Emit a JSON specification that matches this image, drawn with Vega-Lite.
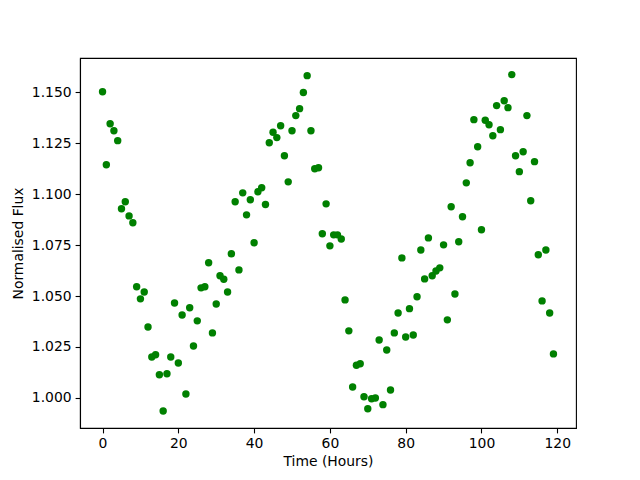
{
  "$schema": "https://vega.github.io/schema/vega-lite/v6.json",
  "width": 496,
  "height": 370,
  "autosize": {"type": "none"},
  "padding": {"left": 80, "top": 58, "right": 64, "bottom": 52},
  "background": "white",
  "config": {
    "view": {"stroke": "black", "strokeWidth": 1.1},
    "font": "DejaVu Sans",
    "axis": {
      "grid": false,
      "domainColor": "black",
      "domainWidth": 1.1,
      "tickColor": "black",
      "tickWidth": 1.1,
      "tickSize": 4.9,
      "labelPadding": 4,
      "labelFontSize": 13.9,
      "labelColor": "black",
      "labelFont": "DejaVu Sans",
      "titleFont": "DejaVu Sans",
      "titleFontSize": 13.9,
      "titleFontWeight": "normal",
      "titleColor": "black"
    }
  },
  "data": {
    "values": [
      {"t": 0, "f": 1.1502}, {"t": 1, "f": 1.1144}, {"t": 2, "f": 1.1345}, {"t": 3, "f": 1.1311},
      {"t": 4, "f": 1.1262}, {"t": 5, "f": 1.0928}, {"t": 6, "f": 1.0962}, {"t": 7, "f": 1.0893},
      {"t": 8, "f": 1.0859}, {"t": 9, "f": 1.0545}, {"t": 10, "f": 1.0486}, {"t": 11, "f": 1.0520},
      {"t": 12, "f": 1.0348}, {"t": 13, "f": 1.0201}, {"t": 14, "f": 1.0212}, {"t": 15, "f": 1.0114},
      {"t": 16, "f": 0.9936}, {"t": 17, "f": 1.0119}, {"t": 18, "f": 1.0201}, {"t": 19, "f": 1.0466},
      {"t": 20, "f": 1.0171}, {"t": 21, "f": 1.0407}, {"t": 22, "f": 1.0019}, {"t": 23, "f": 1.0442},
      {"t": 24, "f": 1.0255}, {"t": 25, "f": 1.0378}, {"t": 26, "f": 1.0540}, {"t": 27, "f": 1.0545},
      {"t": 28, "f": 1.0663}, {"t": 29, "f": 1.0319}, {"t": 30, "f": 1.0461}, {"t": 31, "f": 1.0599},
      {"t": 32, "f": 1.0582}, {"t": 33, "f": 1.0520}, {"t": 34, "f": 1.0707}, {"t": 35, "f": 1.0962},
      {"t": 36, "f": 1.0628}, {"t": 37, "f": 1.1006}, {"t": 38, "f": 1.0898}, {"t": 39, "f": 1.0972},
      {"t": 40, "f": 1.0761}, {"t": 41, "f": 1.1011}, {"t": 42, "f": 1.1031}, {"t": 43, "f": 1.0949},
      {"t": 44, "f": 1.1252}, {"t": 45, "f": 1.1303}, {"t": 46, "f": 1.1277}, {"t": 47, "f": 1.1335},
      {"t": 48, "f": 1.1188}, {"t": 49, "f": 1.1060}, {"t": 50, "f": 1.1311}, {"t": 51, "f": 1.1385},
      {"t": 52, "f": 1.1419}, {"t": 53, "f": 1.1498}, {"t": 54, "f": 1.1581}, {"t": 55, "f": 1.1311},
      {"t": 56, "f": 1.1124}, {"t": 57, "f": 1.1129}, {"t": 58, "f": 1.0805}, {"t": 59, "f": 1.0952},
      {"t": 60, "f": 1.0746}, {"t": 61, "f": 1.0800}, {"t": 62, "f": 1.0800}, {"t": 63, "f": 1.0780},
      {"t": 64, "f": 1.0481}, {"t": 65, "f": 1.0329}, {"t": 66, "f": 1.0054}, {"t": 67, "f": 1.0160},
      {"t": 68, "f": 1.0168}, {"t": 69, "f": 1.0006}, {"t": 70, "f": 0.9947}, {"t": 71, "f": 0.9996},
      {"t": 72, "f": 1.0000}, {"t": 73, "f": 1.0284}, {"t": 74, "f": 0.9967}, {"t": 75, "f": 1.0235},
      {"t": 76, "f": 1.0039}, {"t": 77, "f": 1.0319}, {"t": 78, "f": 1.0417}, {"t": 79, "f": 1.0687},
      {"t": 80, "f": 1.0299}, {"t": 81, "f": 1.0438}, {"t": 82, "f": 1.0309}, {"t": 83, "f": 1.0496},
      {"t": 84, "f": 1.0726}, {"t": 85, "f": 1.0584}, {"t": 86, "f": 1.0785}, {"t": 87, "f": 1.0599},
      {"t": 88, "f": 1.0623}, {"t": 89, "f": 1.0638}, {"t": 90, "f": 1.0751}, {"t": 91, "f": 1.0383},
      {"t": 92, "f": 1.0938}, {"t": 93, "f": 1.0510}, {"t": 94, "f": 1.0766}, {"t": 95, "f": 1.0889},
      {"t": 96, "f": 1.1055}, {"t": 97, "f": 1.1154}, {"t": 98, "f": 1.1365}, {"t": 99, "f": 1.1232},
      {"t": 100, "f": 1.0825}, {"t": 101, "f": 1.1362}, {"t": 102, "f": 1.1340}, {"t": 103, "f": 1.1286},
      {"t": 104, "f": 1.1434}, {"t": 105, "f": 1.1316}, {"t": 106, "f": 1.1458}, {"t": 107, "f": 1.1424},
      {"t": 108, "f": 1.1586}, {"t": 109, "f": 1.1188}, {"t": 110, "f": 1.1110}, {"t": 111, "f": 1.1208},
      {"t": 112, "f": 1.1385}, {"t": 113, "f": 1.0967}, {"t": 114, "f": 1.1159}, {"t": 115, "f": 1.0702},
      {"t": 116, "f": 1.0476}, {"t": 117, "f": 1.0726}, {"t": 118, "f": 1.0417}, {"t": 119, "f": 1.0216}
    ]
  },
  "mark": {"type": "point", "filled": true, "opacity": 1, "size": 55, "color": "#008000", "shape": "circle"},
  "encoding": {
    "x": {
      "field": "t", "type": "quantitative",
      "scale": {"domain": [-5.95, 124.95], "nice": false, "zero": false},
      "axis": {"values": [0, 20, 40, 60, 80, 100, 120], "title": "Time (Hours)", "titlePadding": 4}
    },
    "y": {
      "field": "f", "type": "quantitative",
      "scale": {"domain": [0.98525, 1.16675], "nice": false, "zero": false},
      "axis": {"values": [1.0, 1.025, 1.05, 1.075, 1.1, 1.125, 1.15], "format": ".3f", "title": "Normalised Flux", "titlePadding": 6}
    }
  }
}
